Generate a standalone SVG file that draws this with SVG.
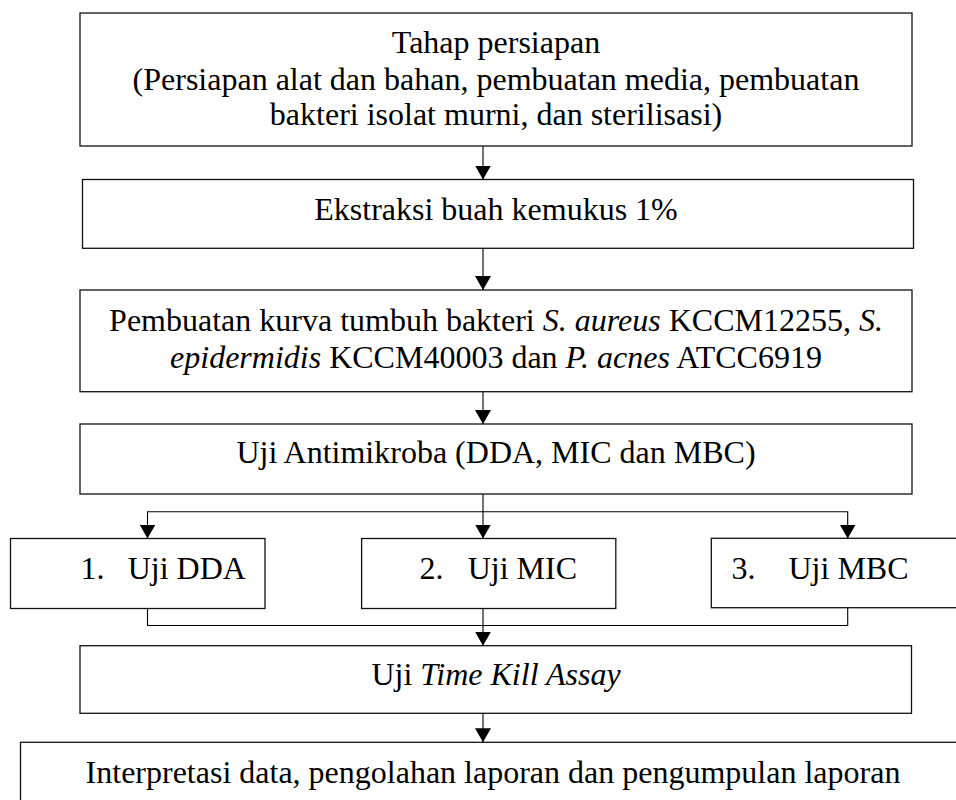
<svg xmlns="http://www.w3.org/2000/svg" width="956" height="800" viewBox="0 0 956 800">
<defs>
<style>
.box{fill:#fff;stroke:#111;stroke-width:1.3}
.con{fill:none;stroke:#000;stroke-width:1.1}
text{font-family:"Liberation Serif","Times New Roman",serif;font-size:32px;fill:#000}
.c{text-anchor:middle}
.i{font-style:italic}
</style>
<marker id="ah" markerUnits="userSpaceOnUse" markerWidth="14" markerHeight="16" viewBox="0 0 16 14" refX="16" refY="7" orient="auto" preserveAspectRatio="none">
<path d="M0,0 L16,7 L0,14 z" fill="#000"/>
</marker>
</defs>
<rect width="956" height="800" fill="#fff"/>
<g id="connectors">
<line class="con" x1="483" y1="146" x2="483" y2="179.5" marker-end="url(#ah)"/>
<line class="con" x1="483" y1="248.3" x2="483" y2="290" marker-end="url(#ah)"/>
<line class="con" x1="483" y1="391.7" x2="483" y2="424" marker-end="url(#ah)"/>
<line class="con" x1="483" y1="494" x2="483" y2="538.5" marker-end="url(#ah)"/>
<path class="con" d="M483,511.7 H147.5 V538.5" marker-end="url(#ah)"/>
<path class="con" d="M483,511.7 H847.7 V538.5" marker-end="url(#ah)"/>
<path class="con" d="M147.5,608.5 V625.5 H847.7 V607.7"/>
<line class="con" x1="483" y1="608.5" x2="483" y2="645.7" marker-end="url(#ah)"/>
<line class="con" x1="483" y1="713.3" x2="483" y2="742.3" marker-end="url(#ah)"/>
</g>
<g id="n1">
<rect class="box" x="80" y="13" width="832" height="133"/>
<text class="c" x="496" y="53">Tahap persiapan</text>
<text class="c" x="496" y="90">(Persiapan alat dan bahan, pembuatan media, pembuatan</text>
<text class="c" x="496" y="125">bakteri isolat murni, dan sterilisasi)</text>
</g>
<g id="n2">
<rect class="box" x="82.5" y="179.5" width="831" height="68.8"/>
<text class="c" x="496" y="220">Ekstraksi buah kemukus 1%</text>
</g>
<g id="n3">
<rect class="box" x="80" y="290" width="832" height="101.7"/>
<text class="c" x="496" y="330.5">Pembuatan kurva tumbuh bakteri <tspan class="i">S. aureus</tspan> KCCM12255, <tspan class="i">S.</tspan></text>
<text class="c" x="496" y="368"><tspan class="i">epidermidis</tspan> KCCM40003 dan <tspan class="i">P. acnes</tspan> ATCC6919</text>
</g>
<g id="n4">
<rect class="box" x="80" y="424" width="832" height="70"/>
<text class="c" x="496" y="463.3">Uji Antimikroba (DDA, MIC dan MBC)</text>
</g>
<g id="n5">
<rect class="box" x="10.5" y="538.5" width="254.5" height="70"/>
<text x="80.5" y="579">1.</text>
<text x="127.7" y="579">Uji DDA</text>
</g>
<g id="n6">
<rect class="box" x="361.6" y="538.5" width="254.2" height="70"/>
<text x="419.5" y="579">2.</text>
<text x="467.7" y="579">Uji MIC</text>
</g>
<g id="n7">
<rect class="box" x="711.3" y="538.3" width="270" height="69.4"/>
<text x="731.5" y="579">3.</text>
<text x="788.5" y="579">Uji MBC</text>
</g>
<g id="n8">
<rect class="box" x="80" y="645.7" width="831.5" height="67.6"/>
<text class="c" x="496" y="685">Uji <tspan class="i">Time Kill Assay</tspan></text>
</g>
<g id="n9">
<rect class="box" x="20.5" y="742.3" width="960" height="80"/>
<text class="c" x="493" y="782.7">Interpretasi data, pengolahan laporan dan pengumpulan laporan</text>
</g>
</svg>
